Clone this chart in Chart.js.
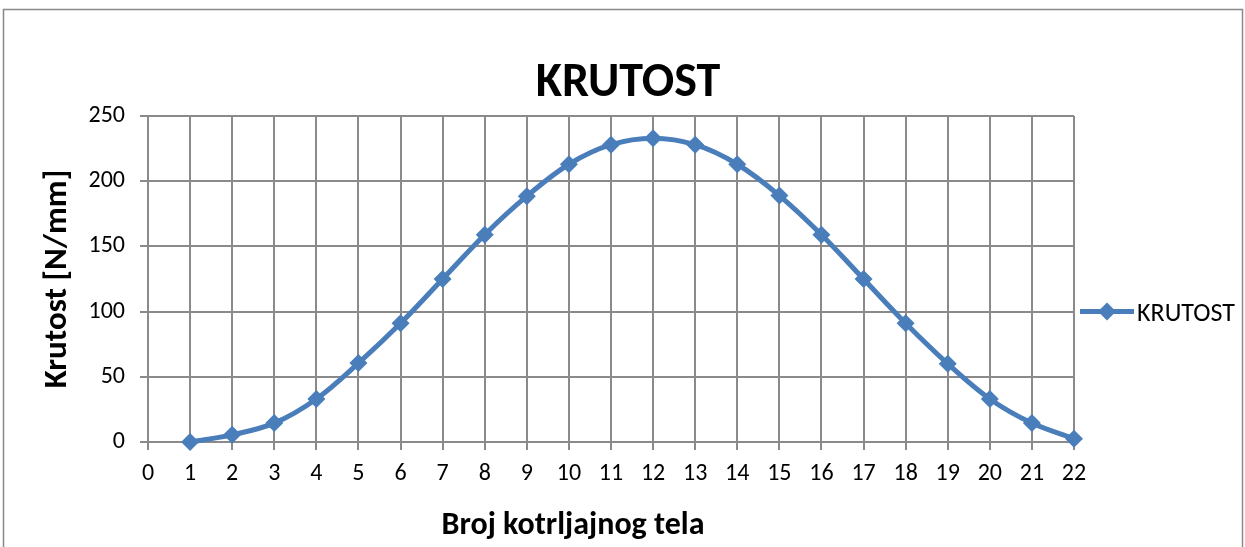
<!DOCTYPE html>
<html>
<head>
<meta charset="utf-8">
<script src="https://cdn.jsdelivr.net/npm/chart.js@4"></script>
<style>
  html, body { margin: 0; padding: 0; background: #fff; }
  #wrap { width: 1245px; height: 547px; }
</style>
</head>
<body>
<div id="wrap"><canvas id="chart" width="1245" height="547"></canvas></div>
<script>
// data
const tela = [1, 2, 3, 4, 5, 6, 7, 8, 9, 10, 11, 12, 13, 14, 15, 16, 17, 18, 19, 20, 21, 22];
const krutost = [0, 5.5, 14.5, 33, 60.5, 91, 125, 159, 188.5, 213, 228, 233, 228, 213, 189, 159, 125, 91, 60, 33, 14.5, 2.5];
const seriesName = 'KRUTOST';
const chartTitle = 'KRUTOST';
const xTitle = 'Broj kotrljajnog tela';
const yTitle = 'Krutost [N/mm]';

const FONT = 'Carlito, Lato, sans-serif';
const blue = '#4a7ebb';
const gridCol = '#8a8a8a';

// outer frame, titles and legend (line with diamond)
const extras = {
    id: 'extras',
    beforeDraw(chart) {
        const c = chart.ctx;
        c.save();
        c.fillStyle = '#fff';
        c.fillRect(0, 0, chart.width, chart.height);
        c.strokeStyle = '#888';
        c.lineWidth = 1.5;
        c.strokeRect(3.5, 9.5, 1239, 600);
        c.restore();
    },
    afterDraw(chart) {
        const c = chart.ctx;
        c.save();
        c.fillStyle = '#000';
        c.font = 'bold 48px ' + FONT;
        c.textAlign = 'center';
        c.textBaseline = 'alphabetic';
        c.fillText(chartTitle, 628, 96);

        // x axis title (Excel centres it left of the plot middle)
        c.font = 'bold 32px ' + FONT;
        c.fillText(xTitle, 573, 534);

        const y = chart.scales.y.getPixelForValue(100);
        const x0 = chart.chartArea.right + 6;
        c.strokeStyle = blue;
        c.lineWidth = 5;
        c.beginPath();
        c.moveTo(x0, y);
        c.lineTo(x0 + 54, y);
        c.stroke();
        c.fillStyle = blue;
        c.beginPath();
        c.moveTo(x0 + 27, y - 9);
        c.lineTo(x0 + 36, y);
        c.lineTo(x0 + 27, y + 9);
        c.lineTo(x0 + 18, y);
        c.closePath();
        c.fill();
        c.fillStyle = '#000';
        c.font = '26px ' + FONT;
        c.textAlign = 'left';
        c.fillText(seriesName, x0 + 57, y + 9);
        c.restore();
    }
};

new Chart(document.getElementById('chart'), {
    type: 'line',
    data: {
        datasets: [{
            label: seriesName,
            data: tela.map((t, i) => ({ x: t, y: krutost[i] })),
            borderColor: blue,
            backgroundColor: blue,
            borderWidth: 5,
            tension: 0.35,
            pointStyle: 'rectRot',
            pointRadius: 9,
            pointBorderWidth: 0,
            pointBackgroundColor: blue,
            clip: false
        }]
    },
    options: {
        responsive: false,
        animation: false,
        layout: { padding: { left: 38, right: 171, top: 116, bottom: 2 } },
        plugins: {
            legend: { display: false },
            tooltip: { enabled: false },
            title: { display: false }
        },
        scales: {
            x: {
                type: 'linear',
                min: 0,
                max: 22,
                afterFit: s => { s.height = 103; },
                ticks: { stepSize: 1, color: '#000', padding: 10, font: { family: FONT, size: 24 } },
                grid: { color: gridCol, lineWidth: 2, tickLength: 8 },
                border: { color: gridCol, width: 2 },
                title: { display: false }
            },
            y: {
                min: 0,
                max: 250,
                afterFit: s => { s.width = 110; },
                ticks: { stepSize: 50, color: '#000', padding: 15, font: { family: FONT, size: 24 } },
                grid: { color: gridCol, lineWidth: 2, tickLength: 8 },
                border: { color: gridCol, width: 2 },
                title: {
                    display: true,
                    text: yTitle,
                    color: '#000',
                    font: { family: FONT, size: 33, weight: 'bold' },
                    padding: { top: 0, bottom: 0 }
                }
            }
        }
    },
    plugins: [extras]
});
</script>
</body>
</html>
